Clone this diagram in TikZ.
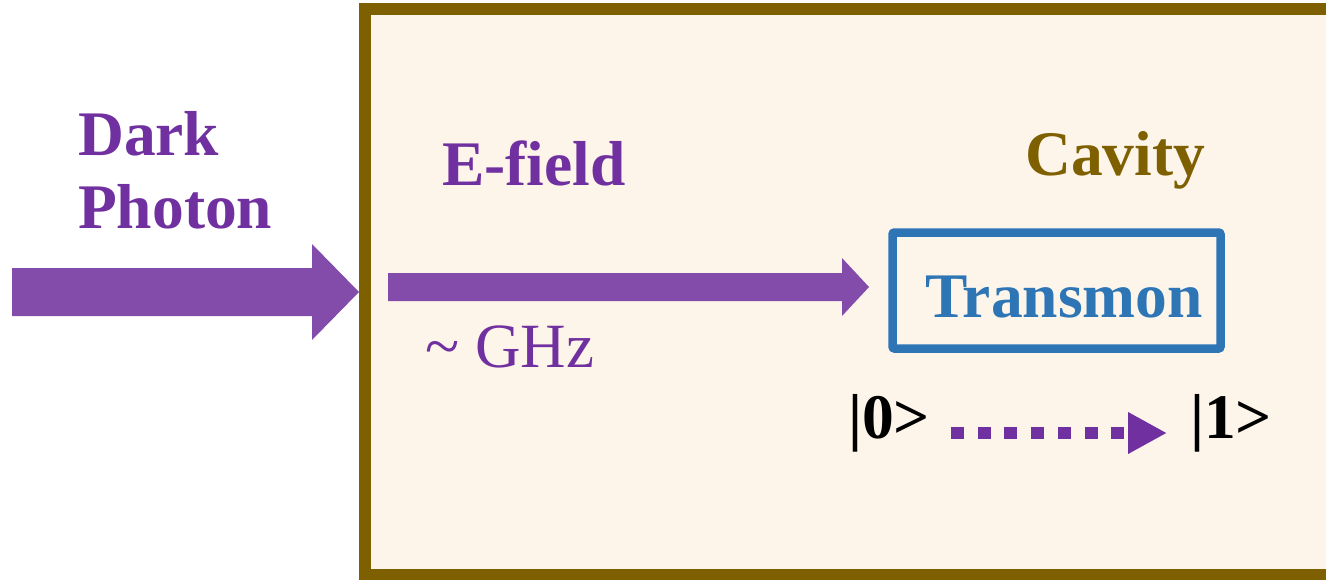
\documentclass[tikz,border=0pt]{standalone}
\usepackage{fontspec}
\setmainfont{Liberation Serif}
\usetikzlibrary{arrows.meta}
\definecolor{cavbrown}{HTML}{7F6000}
\definecolor{cavfill}{HTML}{FDF5EA}
\definecolor{txtpurple}{HTML}{7030A0}
\definecolor{arrpurple}{HTML}{834BAA}
\definecolor{tblue}{HTML}{2E75B6}
\tikzset{
  lbl/.style={inner sep=0pt, anchor=base west, font=\fontsize{63.5}{73}\selectfont\bfseries},
  bigarrow/.style={fill=arrpurple, draw=none},
}
\begin{document}
\begin{tikzpicture}[x=1pt,y=-1pt]
\useasboundingbox (0,0) rectangle (1326,579);
\clip (0,0) rectangle (1326,579);
% cavity
\draw[cavbrown, line width=12pt, fill=cavfill] (364.5,9) rectangle (1345,575);
% incoming dark photon arrow
\coordinate (dpstart) at (12,292);
\coordinate (dptip) at (359,292);
\fill[bigarrow] (12,268) -- (312,268) -- (312,244) -- (dptip) -- (312,340) -- (312,316) -- (12,316) -- cycle;
% E-field arrow
\coordinate (efstart) at (388,287);
\coordinate (eftip) at (869,287);
\fill[bigarrow] (388,273) -- (842,273) -- (842,258) -- (eftip) -- (842,316) -- (842,301) -- (388,301) -- cycle;
% texts
\node[lbl, text=txtpurple] (dark) at (78,155) {Dark};
\node[lbl, text=txtpurple] (photon) at (78,228) {Photon};
\node[lbl, text=txtpurple] (efield) at (442,185) {E-field};
\node[lbl, text=cavbrown] (cavity) at (1025,175) {Cavity};
\node[inner sep=0pt, anchor=base west, font=\fontsize{63}{73}\selectfont, text=txtpurple] (ghz) at (425,367) {\char"007E{} GHz};
% transmon
\draw[tblue, line width=8.5pt, rounded corners=2pt] (892.5,232.5) rectangle (1220.5,348.5);
\node[lbl, text=tblue] (transmon) at (925,317) {Transmon};
% states
\node[lbl, text=black] (s0) at (848,438) {|0>};
\node[lbl, text=black] (s1) at (1190,438) {|1>};
\coordinate (dstart) at (951,433);
\coordinate (dend) at (1167,433);
\draw[txtpurple, line width=12pt, dash pattern=on 13pt off 13.7pt, -{Triangle[length=39pt,width=39pt]}] (dstart) -- (dend);
\end{tikzpicture}
\end{document}
